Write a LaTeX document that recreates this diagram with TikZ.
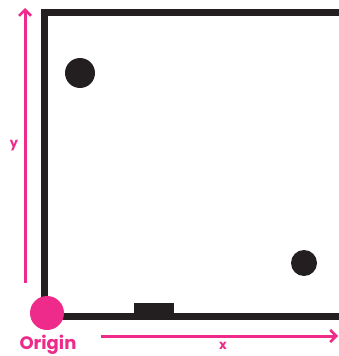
\documentclass[tikz,border=0pt]{standalone}
\usepackage{fontspec}
\setmainfont{Poppins}
\usetikzlibrary{arrows.meta}
\definecolor{pinkc}{HTML}{EE2A8A}
\definecolor{blk}{HTML}{231F20}
\begin{document}
\begin{tikzpicture}[x=1pt,y=-1pt,
  wall/.style={draw=blk,line width=7pt},
  axis/.style={draw=pinkc,line width=3pt,-{Straight Barb[length=6pt,width=12pt,line width=2.5pt]}},
  lbl/.style={text=pinkc,font=\fontsize{13}{13}\selectfont\bfseries,inner sep=0pt},
  dot/.style={fill=blk,circle,inner sep=0pt}]
\useasboundingbox (0,0) rectangle (339,356);
\fill[white] (0,0) rectangle (339,356);
\coordinate (tl) at (44.5,12.5);
\coordinate (tr) at (345,12.5);
\coordinate (bl) at (44.5,316.5);
\coordinate (br) at (345,316.5);
\draw[wall] (tr) -- (tl) -- (bl) -- (br);
\node[fill=blk,minimum width=40pt,minimum height=14pt,inner sep=0pt] (door) at (154,310) {};
\node[dot,minimum size=30pt] (d1) at (80,73) {};
\node[dot,minimum size=26pt] (d2) at (304,263) {};
\node[circle,fill=pinkc,minimum size=34pt,inner sep=0pt] (origin) at (47,313) {};
\node[lbl,font=\fontsize{18}{18}\selectfont\bfseries] (otext) at (48,345) {Origin};
\coordinate (ys) at (25,283);
\coordinate (ye) at (25,8);
\draw[axis] (ys) -- (ye);
\node[lbl] (ylab) at (14,146) {y};
\coordinate (xs) at (101,336);
\coordinate (xe) at (338,336);
\draw[axis] (xs) -- (xe);
\node[lbl] (xlab) at (223,346) {x};
\end{tikzpicture}
\end{document}
